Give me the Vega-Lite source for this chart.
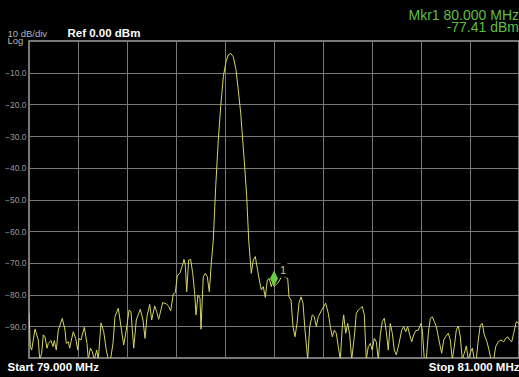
{
  "$schema": "https://vega.github.io/schema/vega-lite/v6.json",
  "width": 490,
  "height": 317,
  "autosize": {"type": "none"},
  "padding": {"left": 29, "top": 41, "right": 0, "bottom": 19},
  "background": "#000000",
  "config": {
    "font": "Liberation Sans",
    "view": {"stroke": "#a0a0a0", "strokeWidth": 1.5}
  },
  "title": {
    "text": "Mkr1 80.000 MHz",
    "subtitle": "-77.41 dBm",
    "anchor": "end",
    "frame": "group",
    "font": "Liberation Sans",
    "fontSize": 14,
    "fontWeight": "normal",
    "color": "#5fbf3f",
    "subtitleFont": "Liberation Sans",
    "subtitleFontSize": 14,
    "subtitleColor": "#5fbf3f",
    "subtitlePadding": -2,
    "offset": -8
  },
  "datasets": {
    "trace": [
      {"freq": 79.0000, "dBm": -85.9}, {"freq": 79.0053, "dBm": -96.4}, {"freq": 79.0110, "dBm": -97.5},
      {"freq": 79.0245, "dBm": -90.9}, {"freq": 79.0380, "dBm": -94.3}, {"freq": 79.0437, "dBm": -100.5},
      {"freq": 79.0518, "dBm": -98.5}, {"freq": 79.0584, "dBm": -92.7}, {"freq": 79.0653, "dBm": -93.3},
      {"freq": 79.0735, "dBm": -96.9}, {"freq": 79.0788, "dBm": -95.4}, {"freq": 79.0898, "dBm": -94.5},
      {"freq": 79.0980, "dBm": -96.4}, {"freq": 79.1033, "dBm": -94.5}, {"freq": 79.1114, "dBm": -97.5},
      {"freq": 79.1196, "dBm": -91.2}, {"freq": 79.1359, "dBm": -87.5}, {"freq": 79.1469, "dBm": -91.2},
      {"freq": 79.1522, "dBm": -95.4}, {"freq": 79.1604, "dBm": -94.9}, {"freq": 79.1661, "dBm": -96.9},
      {"freq": 79.1714, "dBm": -94.9}, {"freq": 79.1808, "dBm": -91.7}, {"freq": 79.1906, "dBm": -93.8},
      {"freq": 79.1988, "dBm": -97.5}, {"freq": 79.2041, "dBm": -93.8}, {"freq": 79.2122, "dBm": -94.3},
      {"freq": 79.2257, "dBm": -90.3}, {"freq": 79.2367, "dBm": -95.4}, {"freq": 79.2420, "dBm": -100.5},
      {"freq": 79.2502, "dBm": -96.9}, {"freq": 79.2584, "dBm": -98.0}, {"freq": 79.2665, "dBm": -100.5},
      {"freq": 79.2763, "dBm": -97.5}, {"freq": 79.2829, "dBm": -100.5}, {"freq": 79.2939, "dBm": -88.9},
      {"freq": 79.3049, "dBm": -91.7}, {"freq": 79.3155, "dBm": -97.5}, {"freq": 79.3237, "dBm": -100.5},
      {"freq": 79.3327, "dBm": -100.5}, {"freq": 79.3429, "dBm": -95.4}, {"freq": 79.3510, "dBm": -86.9},
      {"freq": 79.3645, "dBm": -84.3}, {"freq": 79.3755, "dBm": -90.1}, {"freq": 79.3865, "dBm": -95.9},
      {"freq": 79.3971, "dBm": -91.2}, {"freq": 79.4082, "dBm": -84.9}, {"freq": 79.4163, "dBm": -85.4},
      {"freq": 79.4273, "dBm": -96.9}, {"freq": 79.4380, "dBm": -88.0}, {"freq": 79.4543, "dBm": -84.6},
      {"freq": 79.4653, "dBm": -88.0}, {"freq": 79.4735, "dBm": -93.8}, {"freq": 79.4816, "dBm": -86.9},
      {"freq": 79.4927, "dBm": -83.1}, {"freq": 79.5008, "dBm": -88.0}, {"freq": 79.5131, "dBm": -83.6},
      {"freq": 79.5212, "dBm": -85.4}, {"freq": 79.5294, "dBm": -87.8}, {"freq": 79.5457, "dBm": -82.5},
      {"freq": 79.5620, "dBm": -83.0}, {"freq": 79.5702, "dBm": -83.8}, {"freq": 79.5784, "dBm": -85.1},
      {"freq": 79.5890, "dBm": -79.8}, {"freq": 79.5971, "dBm": -79.4}, {"freq": 79.6053, "dBm": -74.1},
      {"freq": 79.6163, "dBm": -73.1}, {"freq": 79.6245, "dBm": -71.2}, {"freq": 79.6327, "dBm": -68.9},
      {"freq": 79.6380, "dBm": -70.7}, {"freq": 79.6437, "dBm": -79.1}, {"freq": 79.6518, "dBm": -69.1},
      {"freq": 79.6600, "dBm": -68.9}, {"freq": 79.6682, "dBm": -73.3}, {"freq": 79.6763, "dBm": -79.6},
      {"freq": 79.6816, "dBm": -86.4}, {"freq": 79.6898, "dBm": -80.1}, {"freq": 79.6980, "dBm": -81.2},
      {"freq": 79.7020, "dBm": -90.9}, {"freq": 79.7114, "dBm": -74.4}, {"freq": 79.7196, "dBm": -73.3},
      {"freq": 79.7278, "dBm": -74.4}, {"freq": 79.7359, "dBm": -79.1}, {"freq": 79.7441, "dBm": -70.1},
      {"freq": 79.7522, "dBm": -62.8}, {"freq": 79.7620, "dBm": -46.0}, {"freq": 79.7727, "dBm": -31.2},
      {"freq": 79.7824, "dBm": -20.7}, {"freq": 79.7931, "dBm": -11.3}, {"freq": 79.8041, "dBm": -6.5},
      {"freq": 79.8135, "dBm": -4.4}, {"freq": 79.8233, "dBm": -3.9}, {"freq": 79.8339, "dBm": -5.0},
      {"freq": 79.8449, "dBm": -9.1}, {"freq": 79.8543, "dBm": -15.5}, {"freq": 79.8641, "dBm": -22.8},
      {"freq": 79.8722, "dBm": -31.2}, {"freq": 79.8804, "dBm": -39.7}, {"freq": 79.8886, "dBm": -49.1},
      {"freq": 79.8967, "dBm": -62.8}, {"freq": 79.9020, "dBm": -68.0}, {"freq": 79.9073, "dBm": -73.3},
      {"freq": 79.9155, "dBm": -69.1}, {"freq": 79.9237, "dBm": -68.0}, {"freq": 79.9318, "dBm": -71.7},
      {"freq": 79.9400, "dBm": -75.4}, {"freq": 79.9482, "dBm": -78.5}, {"freq": 79.9563, "dBm": -77.5},
      {"freq": 79.9645, "dBm": -80.9}, {"freq": 79.9727, "dBm": -75.4}, {"freq": 79.9808, "dBm": -74.9},
      {"freq": 79.9890, "dBm": -77.5}, {"freq": 79.9947, "dBm": -75.9}, {"freq": 80.0000, "dBm": -77.41},
      {"freq": 80.0163, "dBm": -76.3}, {"freq": 80.0327, "dBm": -74.1}, {"freq": 80.0559, "dBm": -74.9},
      {"freq": 80.0612, "dBm": -80.7}, {"freq": 80.0694, "dBm": -81.7}, {"freq": 80.0776, "dBm": -90.1},
      {"freq": 80.0857, "dBm": -93.3}, {"freq": 80.0939, "dBm": -89.1}, {"freq": 80.1020, "dBm": -82.7},
      {"freq": 80.1102, "dBm": -80.7}, {"freq": 80.1184, "dBm": -82.7}, {"freq": 80.1265, "dBm": -91.2},
      {"freq": 80.1376, "dBm": -100.5}, {"freq": 80.1457, "dBm": -90.1}, {"freq": 80.1563, "dBm": -86.4},
      {"freq": 80.1645, "dBm": -87.0}, {"freq": 80.1727, "dBm": -90.1}, {"freq": 80.1808, "dBm": -87.0},
      {"freq": 80.1947, "dBm": -84.9}, {"freq": 80.2110, "dBm": -82.7}, {"freq": 80.2216, "dBm": -85.9},
      {"freq": 80.2298, "dBm": -90.1}, {"freq": 80.2380, "dBm": -93.3}, {"freq": 80.2461, "dBm": -91.2},
      {"freq": 80.2543, "dBm": -92.2}, {"freq": 80.2624, "dBm": -96.4}, {"freq": 80.2706, "dBm": -100.5},
      {"freq": 80.2788, "dBm": -90.1}, {"freq": 80.2845, "dBm": -86.4}, {"freq": 80.2927, "dBm": -92.2},
      {"freq": 80.3008, "dBm": -89.1}, {"freq": 80.3090, "dBm": -92.7}, {"freq": 80.3171, "dBm": -100.5},
      {"freq": 80.3278, "dBm": -93.3}, {"freq": 80.3359, "dBm": -85.9}, {"freq": 80.3441, "dBm": -84.9},
      {"freq": 80.3522, "dBm": -84.3}, {"freq": 80.3604, "dBm": -83.8}, {"freq": 80.3686, "dBm": -86.4},
      {"freq": 80.3767, "dBm": -100.5}, {"freq": 80.3849, "dBm": -96.4}, {"freq": 80.3931, "dBm": -95.4},
      {"freq": 80.4012, "dBm": -97.5}, {"freq": 80.4094, "dBm": -93.8}, {"freq": 80.4176, "dBm": -94.9},
      {"freq": 80.4257, "dBm": -100.5}, {"freq": 80.4339, "dBm": -92.7}, {"freq": 80.4420, "dBm": -88.5},
      {"freq": 80.4502, "dBm": -87.5}, {"freq": 80.4584, "dBm": -91.7}, {"freq": 80.4665, "dBm": -97.5},
      {"freq": 80.4747, "dBm": -89.1}, {"freq": 80.4829, "dBm": -92.2}, {"freq": 80.4910, "dBm": -97.5},
      {"freq": 80.4992, "dBm": -99.0}, {"freq": 80.5102, "dBm": -95.5}, {"freq": 80.5212, "dBm": -91.2},
      {"freq": 80.5294, "dBm": -90.1}, {"freq": 80.5376, "dBm": -91.7}, {"freq": 80.5457, "dBm": -90.1},
      {"freq": 80.5539, "dBm": -92.7}, {"freq": 80.5620, "dBm": -94.9}, {"freq": 80.5702, "dBm": -92.7},
      {"freq": 80.5784, "dBm": -91.4}, {"freq": 80.5890, "dBm": -91.2}, {"freq": 80.6000, "dBm": -89.1},
      {"freq": 80.6053, "dBm": -91.2}, {"freq": 80.6135, "dBm": -100.5}, {"freq": 80.6216, "dBm": -100.5},
      {"freq": 80.6298, "dBm": -92.2}, {"freq": 80.6380, "dBm": -87.5}, {"freq": 80.6461, "dBm": -87.0},
      {"freq": 80.6543, "dBm": -88.5}, {"freq": 80.6624, "dBm": -90.1}, {"freq": 80.6706, "dBm": -93.3},
      {"freq": 80.6788, "dBm": -96.4}, {"freq": 80.6845, "dBm": -98.5}, {"freq": 80.6927, "dBm": -94.3},
      {"freq": 80.7008, "dBm": -93.3}, {"freq": 80.7114, "dBm": -92.2}, {"freq": 80.7196, "dBm": -94.3},
      {"freq": 80.7278, "dBm": -100.5}, {"freq": 80.7359, "dBm": -96.4}, {"freq": 80.7441, "dBm": -91.2},
      {"freq": 80.7522, "dBm": -89.9}, {"freq": 80.7604, "dBm": -93.3}, {"freq": 80.7686, "dBm": -100.5},
      {"freq": 80.7767, "dBm": -98.5}, {"freq": 80.7849, "dBm": -96.2}, {"freq": 80.7931, "dBm": -100.5},
      {"freq": 80.8012, "dBm": -98.3}, {"freq": 80.8094, "dBm": -96.9}, {"freq": 80.8176, "dBm": -100.5},
      {"freq": 80.8257, "dBm": -100.5}, {"freq": 80.8339, "dBm": -94.3}, {"freq": 80.8420, "dBm": -89.6},
      {"freq": 80.8502, "dBm": -89.1}, {"freq": 80.8584, "dBm": -92.7}, {"freq": 80.8694, "dBm": -94.9},
      {"freq": 80.8776, "dBm": -97.5}, {"freq": 80.8857, "dBm": -100.5}, {"freq": 80.8967, "dBm": -100.5},
      {"freq": 80.9049, "dBm": -96.4}, {"freq": 80.9155, "dBm": -94.9}, {"freq": 80.9265, "dBm": -94.3},
      {"freq": 80.9376, "dBm": -94.9}, {"freq": 80.9457, "dBm": -93.8}, {"freq": 80.9539, "dBm": -93.3},
      {"freq": 80.9620, "dBm": -94.3}, {"freq": 80.9702, "dBm": -94.9}, {"freq": 80.9784, "dBm": -92.2},
      {"freq": 80.9890, "dBm": -88.5}, {"freq": 81.0000, "dBm": -89.1}
    ],
    "marker": [
      {"freq": 80.0, "dBm": -77.41, "label": "1"}
    ]
  },
  "layer": [
    {
      "data": {"name": "trace"},
      "mark": {"type": "line", "color": "#d6d65a", "strokeWidth": 1, "clip": true},
      "encoding": {
        "x": {
          "field": "freq",
          "type": "quantitative",
          "scale": {"domain": [79, 81], "nice": false, "zero": false},
          "axis": {
            "values": [79, 79.2, 79.4, 79.6, 79.8, 80, 80.2, 80.4, 80.6, 80.8, 81],
            "tickCount": 20,
            "labelExpr": "datum.value < 79.01 ? 'Start 79.000 MHz' : (datum.value > 80.99 ? 'Stop 81.000 MHz' : '')",
            "labelFlush": true,
            "labelOverlap": false,
            "labelOffset": {"condition": {"test": "datum.value < 79.01", "value": -22}, "value": 0},
            "labelColor": "#ffffff",
            "labelFont": "Liberation Sans",
            "labelFontSize": 11.5,
            "labelFontWeight": "bold",
            "labelBaseline": "alphabetic",
            "labelPadding": 12,
            "domain": false,
            "ticks": false,
            "tickSize": 0,
            "grid": true,
            "gridColor": "#787878",
            "gridWidth": 1,
            "title": "Ref 0.00 dBm",
            "titleColor": "#ffffff",
            "titleFont": "Liberation Sans",
            "titleFontSize": 11.5,
            "titleFontWeight": "bold",
            "titleAnchor": "start",
            "titleAlign": "left",
            "titleBaseline": "alphabetic",
            "titleX": 38,
            "titleY": -322
          }
        },
        "y": {
          "field": "dBm",
          "type": "quantitative",
          "scale": {"domain": [-100, 0], "nice": false, "zero": false},
          "axis": {
            "values": [-90, -80, -70, -60, -50, -40, -30, -20, -10],
            "tickCount": 20,
            "format": ".1f",
            "labelOverlap": false,
            "labelColor": "#9a9a9a",
            "labelFont": "Liberation Sans",
            "labelFontSize": 8.5,
            "labelPadding": 3,
            "domain": false,
            "ticks": false,
            "tickSize": 0,
            "grid": true,
            "gridColor": "#787878",
            "gridWidth": 1,
            "title": ["10 dB/div", "Log"],
            "titleColor": "#b4b4b4",
            "titleFont": "Liberation Sans",
            "titleFontSize": 9.5,
            "titleFontWeight": "normal",
            "titleAngle": 0,
            "titleAlign": "left",
            "titleBaseline": "alphabetic",
            "titleLineHeight": 7.5,
            "titleX": -22,
            "titleY": -5
          }
        }
      }
    },
    {
      "data": {"name": "marker"},
      "mark": {
        "type": "point",
        "shape": "M0,-2L0.5,-1L0,0L-0.5,-1Z",
        "size": 256,
        "filled": true,
        "opacity": 1,
        "color": "#66cc44"
      },
      "encoding": {
        "x": {"field": "freq", "type": "quantitative"},
        "y": {"field": "dBm", "type": "quantitative"}
      }
    },
    {
      "data": {"name": "marker"},
      "mark": {
        "type": "text",
        "align": "left",
        "baseline": "alphabetic",
        "dx": 6,
        "dy": -12,
        "fontSize": 11,
        "font": "Liberation Sans",
        "stroke": "#000000",
        "strokeWidth": 7,
        "fill": "#000000"
      },
      "encoding": {
        "x": {"field": "freq", "type": "quantitative"},
        "y": {"field": "dBm", "type": "quantitative"},
        "text": {"field": "label"}
      }
    },
    {
      "data": {"name": "marker"},
      "mark": {
        "type": "text",
        "align": "left",
        "baseline": "alphabetic",
        "dx": 6,
        "dy": -12,
        "fontSize": 11,
        "font": "Liberation Sans",
        "color": "#cfcf50"
      },
      "encoding": {
        "x": {"field": "freq", "type": "quantitative"},
        "y": {"field": "dBm", "type": "quantitative"},
        "text": {"field": "label"}
      }
    }
  ]
}
